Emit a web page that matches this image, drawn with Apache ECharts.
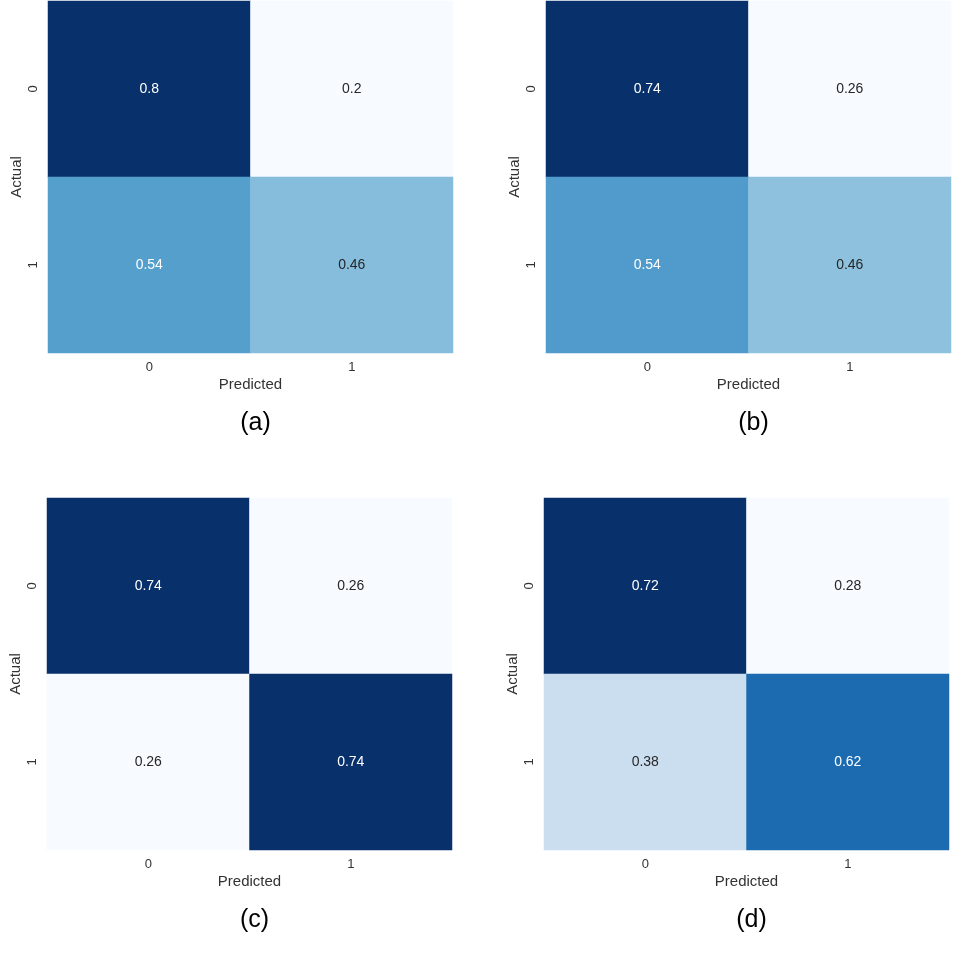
<!DOCTYPE html>
<html>
<head>
<meta charset="utf-8">
<script src="https://cdn.jsdelivr.net/npm/echarts@6/dist/echarts.min.js"></script>
<style>html,body{margin:0;padding:0;background:#fff;}#c{width:955px;height:954px;}</style>
</head>
<body>
<div id="c"></div>
<script>
// Data
const predictedCats = ['0', '1'];
const actualCats = ['0', '1'];
const panelLabels = ['(a)', '(b)', '(c)', '(d)'];
// rows = actual, cols = predicted
const matrixA = [[0.8, 0.2], [0.54, 0.46]];
const matrixB = [[0.74, 0.26], [0.54, 0.46]];
const matrixC = [[0.74, 0.26], [0.26, 0.74]];
const matrixD = [[0.72, 0.28], [0.38, 0.62]];
const matrices = [matrixA, matrixB, matrixC, matrixD];

const blues = ['#f7fbff', '#deebf7', '#c6dbef', '#9ecae1', '#6baed6', '#4292c6', '#2171b5', '#08519c', '#08306b'];
const FONT = '"Liberation Sans", Arial, sans-serif';
const TXT = '#262626';

// layout (px)
const boxes = [
  {left: 48, top: 1, width: 405, height: 352},
  {left: 546, top: 1, width: 405, height: 352},
  {left: 47, top: 498, width: 405, height: 352},
  {left: 544, top: 498, width: 405, height: 352}
];

const grid = [], xAxis = [], yAxis = [], series = [], visualMap = [], title = [];
matrices.forEach((m, i) => {
  const flat = m.flat();
  const vmin = Math.min(...flat), vmax = Math.max(...flat);
  const b = boxes[i];
  grid.push({left: b.left, top: b.top, width: b.width, height: b.height, containLabel: false});
  xAxis.push({
    type: 'category', gridIndex: i, data: predictedCats,
    axisLine: {show: false}, axisTick: {show: false}, splitLine: {show: false},
    axisLabel: {color: '#333', fontSize: 13, fontFamily: FONT, margin: 8},
    name: 'Predicted', nameLocation: 'middle', nameGap: 24,
    nameTextStyle: {color: '#333', fontSize: 15, fontFamily: FONT}
  });
  yAxis.push({
    type: 'category', gridIndex: i, data: actualCats, inverse: true,
    axisLine: {show: false}, axisTick: {show: false}, splitLine: {show: false},
    axisLabel: {color: '#333', fontSize: 13, fontFamily: FONT, rotate: 90, margin: 8},
    name: 'Actual', nameLocation: 'middle', nameGap: 24,
    nameTextStyle: {color: '#333', fontSize: 15, fontFamily: FONT}
  });
  const data = [];
  m.forEach((row, r) => row.forEach((v, c) => {
    const t = (v - vmin) / (vmax - vmin);
    data.push({value: [c, r, v], label: {color: t > 0.5 ? '#ffffff' : TXT}});
  }));
  series.push({
    type: 'heatmap', xAxisIndex: i, yAxisIndex: i, data: data,
    label: {show: true, fontSize: 14, fontFamily: FONT, formatter: p => String(p.value[2])},
    itemStyle: {borderWidth: 0},
    emphasis: {disabled: true}
  });
  visualMap.push({
    type: 'continuous', show: false, seriesIndex: i, dimension: 2,
    min: vmin, max: vmax, inRange: {color: blues}
  });
  title.push({
    text: panelLabels[i], left: b.left + b.width / 2, top: b.top + b.height + 53,
    textAlign: 'center',
    textStyle: {color: '#000', fontSize: 25, fontWeight: 'normal', fontFamily: FONT}
  });
});

const chart = echarts.init(document.getElementById('c'), null, {renderer: 'canvas'});
chart.setOption({
  animation: false, backgroundColor: '#fff',
  title, grid, xAxis, yAxis, series, visualMap
});
</script>
</body>
</html>
